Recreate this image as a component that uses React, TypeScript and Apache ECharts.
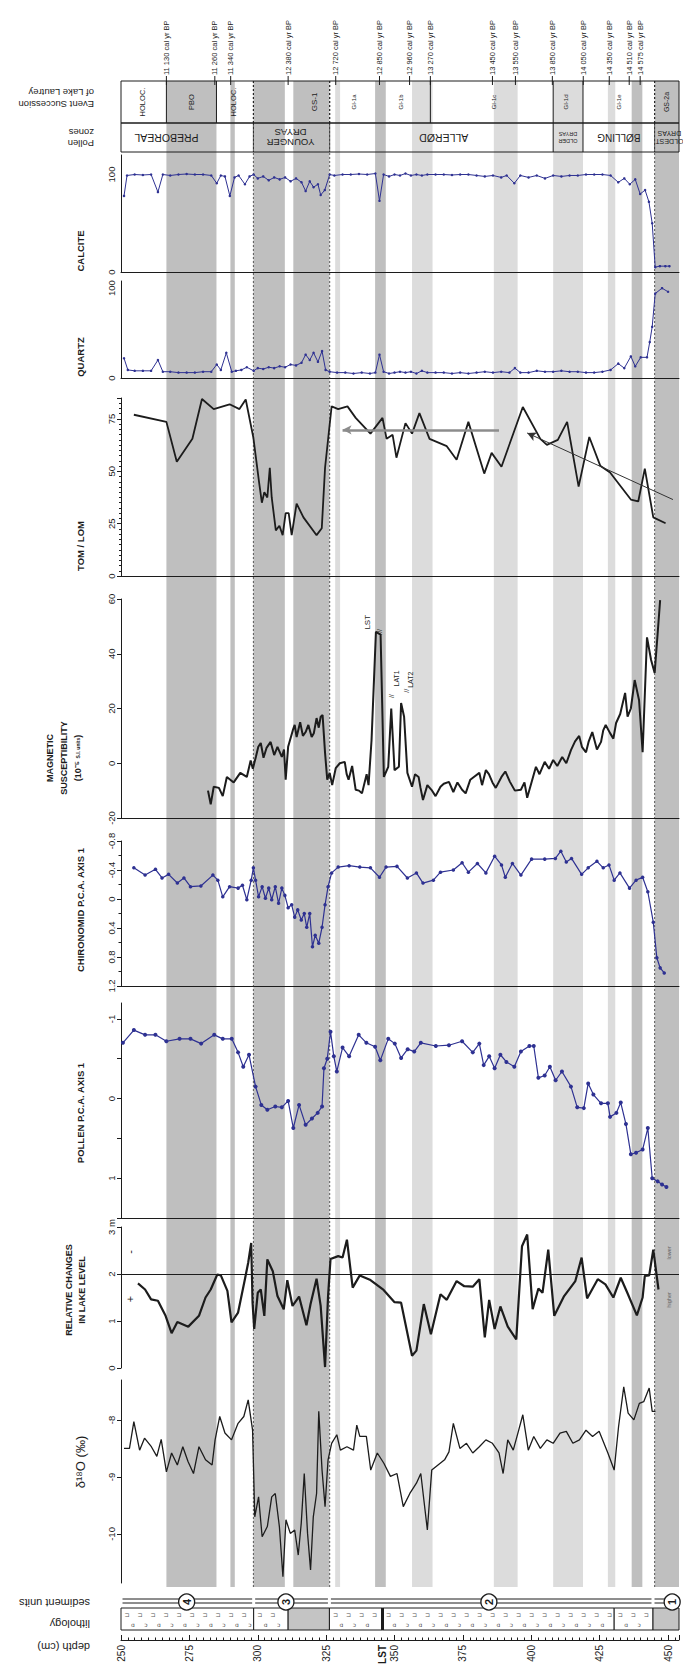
import React, { useEffect, useRef } from 'react';
import * as echarts from 'echarts';

const FONT = '"Liberation Sans", Arial, Helvetica, sans-serif';
const INK = '#1c1c1c';
const BLUE = '#2e3192';
const GREY_DARK = '#bfbfbf';
const GREY_LIGHT = '#dcdcdc';

const DEPTH_MIN = 250;
const DEPTH_MAX = 454;
const LST_DEPTH = 345.6;
const depthTickLabels = [250, 275, 300, 325, LST_DEPTH, 350, 375, 400, 425, 450];

// grey event bands (depth cm)
const bandStarts = [266.6, 290.0, 298.4, 313.0, 328.3, 342.9, 356.4, 386.3, 408.0, 428.0, 436.7, 445.1];
const bandEnds = [284.9, 291.6, 309.9, 326.2, 330.1, 346.8, 363.9, 395.0, 418.9, 430.7, 440.6, 454.0];
const bandDark = [1, 1, 1, 1, 0, 1, 0, 0, 0, 0, 1, 1];
const boundaryDepths = [298.4, 326.3, 445.1];

// dates
const dateDepths = [266.6, 284.3, 290.1, 311.1, 328.5, 344.5, 355.5, 363.1, 385.8, 394.2, 407.7, 419.0, 428.5, 435.8, 439.8];
const dateLabels = ['11 130', '11 260', '11 340', '12 380', '12 720', '12 850', '12 960', '13 270', '13 450', '13 550', '13 850', '14 050', '14 350', '14 510', '14 575'];

// event succession
const eventNames = ['HOLOC.', 'PBO', 'HOLOC.', 'GS-1', 'GI-1a', 'GI-1b', 'GI-1c', 'GI-1d', 'GI-1e', 'GS-2a'];
const eventStarts = [250, 266.6, 284.9, 298.4, 326.3, 342.9, 363.1, 408.0, 418.9, 445.1];
const eventEnds = [266.6, 284.9, 298.4, 326.3, 342.9, 363.1, 408.0, 418.9, 445.1, 454];
const eventLabelAt = [257.8, 275.8, 291.2, 320.6, 335.0, 352.4, 386.5, 412.8, 432.0, 449.6];
const eventEndLine = ['solid', 'solid', 'dotted', 'dotted', 'none', 'solid', 'solid', 'solid', 'dotted', 'none'];
const eventFont = [7.5, 7.5, 7.5, 8, 6, 6, 6, 6, 6, 7];

// pollen zones
const zoneNames = ['PREBOREAL', 'YOUNGER\nDRYAS', 'ALLERØD', 'OLDER\nDRYAS', 'BØLLING', 'OLDEST\nDRYAS'];
const zoneStarts = [250, 298.4, 326.3, 408.0, 418.9, 445.1];
const zoneEnds = [298.4, 326.3, 408.0, 418.9, 445.1, 454];
const zoneLabelAt = [266.6, 312.0, 368.0, 413.4, 432.0, 450.5];
const zoneEndLine = ['dotted', 'dotted', 'solid', 'solid', 'dotted', 'none'];
const zoneFont = [10.5, 9.5, 10.5, 5.5, 10, 7];

// sediment units & lithology
const unitNumbers = ['4', '3', '2', '1'];
const unitStarts = [250, 298.5, 326.2, 444.5];
const unitEnds = [298.5, 326.2, 444.5, 454];
const unitLabelAt = [274, 310.3, 384.5, 451.5];
const lithStarts = [250, 298.5, 311.1, 326.2, LST_DEPTH, 430.3, 444.5];
const lithEnds = [298.5, 311.1, 326.2, LST_DEPTH, 430.3, 444.5, 454];
const lithGrey = [0, 0, 1, 0, 0, 0, 1];

// series [depth cm, value]
const calcite = [[251.1,78],[252.2,99],[255,100],[258,99.5],[261,100],[263.5,82],[265.3,100],[268,99],[271,100],[274,100.5],[277,100],[280,100],[283,99],[285,91],[286.5,99],[288,98],[289.8,78],[291.5,97],[293,99],[295.3,90],[297,98],[298.5,100],[300,96],[302,98],[304,94],[306,97],[308,95],[310,97],[312,93],[314,96],[316,92],[317.5,83],[319,93],[320.4,87],[322,90],[323,79],[324.5,84],[326.3,100],[328,99],[331,100],[334,100],[337,100.5],[340,100],[343,101],[344.5,73],[346,100],[348,98],[350,100],[352,99],[354,101],[356,99],[358,100],[360,99],[362,100],[365,100],[368,100],[371,99.5],[374,100],[377,100],[380,99],[383,98],[386,99],[389,97],[391,99],[393.8,91],[396,99],[399,97],[402,99],[405,96],[408,99],[411,98],[414,99],[417,99],[420,100],[423,100],[426,100],[429,99],[431.8,92],[434,96],[436,90],[438,95],[439.8,80],[441.6,84],[443,72],[444.2,50],[445.3,5],[447,6],[449,6],[450.5,6]];

const quartz = [[251.1,22],[252.5,9],[255,8],[258,8],[261,8],[263.5,20],[265.3,7],[268,7],[271,6],[274,6],[277,6],[280,7],[283,7],[285,15],[286.5,9],[288.5,28],[290.5,7],[292,8],[294,9],[296,12],[298.5,8],[300,11],[302,10],[304,12],[306,11],[308,13],[310,12],[312,15],[314,14],[316,17],[317.5,26],[319,20],[320.4,28],[322,18],[323.5,30],[324.8,9],[326.3,7],[329,6],[332,6],[335,5],[338,6],[341,5],[343,6],[344.5,26],[346,7],[348,5],[350,6],[352,7],[354,6],[356,7],[358,5],[360,8],[362,6],[365,6],[368,6],[371,5],[374,6],[377,5],[380,6],[383,7],[386,6],[389,7],[392,6],[394,11],[396,6],[399,6],[402,8],[405,7],[408,7],[411,8],[414,7],[417,7],[420,6],[423,6],[426,7],[429,9],[431.8,16],[434,11],[436.4,24],[438,13],[440,23],[442.3,23],[443.3,40],[444.2,57],[445.3,94],[447.8,100],[450,96]];

const tomLom = [[254.7,77],[266.6,73.6],[270.4,54.6],[276.1,65.5],[279.6,84.5],[283.9,79.7],[289.7,82],[293.3,79.7],[295.6,84.3],[298.4,66],[300.4,45.6],[301.5,35],[302.4,40],[303.5,37.5],[304.4,51.7],[305.1,37.5],[306.6,21.8],[307.9,24],[309.1,19.5],[310.2,30],[311.3,30],[312.4,19.5],[314.2,34.6],[316.7,28],[321.5,19.5],[323.4,22.8],[324.6,51.7],[327,81],[329.4,79.7],[332.8,81],[335.8,75.5],[341.2,68],[345.6,75.5],[347.1,65.5],[349.3,67.4],[350.7,56.5],[354,73],[356.4,68],[359.1,77.8],[362.8,65.5],[369.1,62],[372.7,55.5],[377,73.6],[382.8,48.9],[385.5,58.8],[389.1,52.2],[396.9,80.7],[403.3,65.5],[405.7,62.6],[409.7,65],[413.1,73.6],[417.3,42.7],[421.2,66.4],[425.2,52.7],[428.8,49.4],[436.4,36.5],[439.1,35.6],[441.5,51.3],[444.6,28],[449.1,25.2]];

const magSus = [[281.8,-10],[282.8,-15],[283.9,-8.6],[285.8,-9],[287.2,-12],[288.7,-5],[291.2,-7],[293.6,-3.5],[296,-5],[297.4,1],[298.2,-2],[299.3,2.3],[300.2,6],[301.1,7.4],[302.1,2],[303.2,5.6],[304.7,7.8],[306,3],[307.2,6],[308.8,2.3],[309.6,5],[310.2,-6],[311.1,6],[312.8,12],[313.5,14],[314.2,9.6],[315.5,15],[316.5,10],[317.5,11.4],[318.5,14],[319.7,9.6],[320.5,11],[321.5,16.5],[322.3,13],[323,17],[323.7,17.6],[324.6,3.8],[325.4,-6],[326.3,-3.5],[327.2,-8],[328.5,-1.8],[330,0],[331.8,0.5],[332.5,-4],[333.2,-6],[334.5,-1],[335.8,-9.7],[337,-10],[338.1,-11],[339.8,-4],[340.5,-8],[341.6,8.5],[343.2,48],[344.9,47],[346.1,-5],[347.7,-1.3],[348.8,20],[350,-2.5],[351.6,-1.3],[352.4,22],[353.5,17],[354.7,-3.5],[356.4,-8.6],[357.5,-4],[358.8,-5],[359.5,-9],[360.4,-13.4],[362,-8],[363.5,-9.7],[365,-12],[366.8,-8.6],[368,-7.5],[369.9,-6.8],[371.5,-10.5],[373,-7],[374.7,-9.7],[376,-11],[377.7,-6],[379,-5],[381,-3.5],[382,-8],[383.4,-2.5],[384.5,-4],[385.8,-7],[387,-9],[389.1,-5],[390.5,-3],[392.2,-6.8],[394,-10],[396.2,-9.7],[397.5,-7],[398.5,-12.6],[401.7,-1.3],[403,-4],[404.9,0.5],[406.5,-2],[408,1.2],[409.5,-1],[411.3,2.3],[412.8,0],[414.5,4.8],[416,8],[417.5,10],[418.5,6],[420,4],[421,8],[422.3,11.4],[424,5],[425.5,7.8],[426.3,12],[427.2,14],[428.8,11],[430,9],[431,14.7],[432.5,18],[434.3,25.7],[435.2,17],[436.4,20],[437.8,30.4],[439.4,23],[440.7,4],[442.3,46],[443.8,37.7],[445.1,33],[446.2,47.5],[447.1,59.6]];

const chironomid = [[254.7,-0.43],[258.8,-0.33],[262.6,-0.41],[265,-0.29],[267.4,-0.34],[270.6,-0.22],[273,-0.29],[275.4,-0.17],[279.2,-0.18],[283.6,-0.33],[285.4,-0.26],[287.2,-0.03],[289.7,-0.17],[292.8,-0.15],[294.4,-0.19],[296,0.01],[297.6,-0.26],[298.4,-0.43],[299.2,-0.26],[300.3,-0.03],[301.6,-0.17],[302.8,-0.01],[304,-0.15],[305.1,0.01],[306.4,-0.17],[307.6,0.06],[308.8,-0.15],[309.9,-0.05],[311.1,0.12],[312.4,0.08],[313.5,0.25],[314.6,0.15],[315.9,0.29],[317,0.2],[317.9,0.39],[319,0.2],[320,0.66],[321,0.5],[322.3,0.61],[323.5,0.39],[324.6,0.08],[325.7,-0.17],[327,-0.36],[329.4,-0.44],[333.4,-0.46],[337.3,-0.44],[341.2,-0.43],[344.5,-0.3],[346.9,-0.44],[350.9,-0.45],[354.7,-0.29],[358,-0.36],[360.4,-0.22],[364.2,-0.26],[366.8,-0.37],[371.5,-0.4],[374.7,-0.5],[377,-0.37],[380.3,-0.49],[383.4,-0.36],[386.6,-0.59],[389.1,-0.47],[390.5,-0.3],[393.1,-0.49],[396.2,-0.33],[400.1,-0.55],[404.9,-0.55],[408.8,-0.56],[410.8,-0.66],[412.8,-0.51],[414.7,-0.56],[418.4,-0.34],[420.8,-0.43],[424,-0.52],[426.3,-0.43],[428.4,-0.47],[430.3,-0.26],[432.4,-0.36],[435.9,-0.15],[438.3,-0.26],[440.7,-0.3],[442.6,-0.1],[444.6,0.32],[445.9,0.81],[447.1,0.95],[448.6,1.02]];

const pollen = [[250.7,-0.70],[254.7,-0.86],[258.8,-0.80],[262.6,-0.80],[266.6,-0.72],[271.4,-0.75],[275.4,-0.75],[279.3,-0.69],[284.1,-0.80],[287.2,-0.75],[290.5,-0.75],[292.8,-0.58],[294.7,-0.40],[296.8,-0.55],[299.2,-0.15],[301.3,0.08],[303.5,0.14],[306.4,0.10],[308.8,0.11],[311.1,0.03],[313,0.37],[315.1,0.08],[317.5,0.33],[319.8,0.25],[321.9,0.18],[323.5,0.10],[324.2,-0.38],[325.4,-0.50],[326.6,-0.84],[327.8,-0.53],[328.9,-0.34],[331,-0.64],[333.4,-0.53],[336.9,-0.80],[339.7,-0.70],[342.9,-0.65],[344.8,-0.48],[347.7,-0.75],[350.1,-0.69],[352.4,-0.51],[354.8,-0.62],[357.2,-0.59],[359.6,-0.70],[365.1,-0.66],[369.9,-0.67],[374.7,-0.72],[378.6,-0.58],[381,-0.69],[382.6,-0.42],[384.6,-0.53],[386.6,-0.38],[388.7,-0.55],[390.9,-0.46],[393.8,-0.40],[396.2,-0.59],[399.3,-0.66],[400.9,-0.66],[402.6,-0.26],[404.9,-0.29],[406.8,-0.40],[408.9,-0.23],[411.2,-0.34],[414.5,-0.15],[416.8,0.11],[419.2,0.12],[420.8,-0.19],[422.7,-0.05],[425.5,0.06],[428,0.06],[428.8,0.23],[431.1,0.18],[432.7,0.05],[434.6,0.32],[436.4,0.70],[438.3,0.68],[440.7,0.64],[442.6,0.37],[444.2,1.00],[446.2,1.04],[447.8,1.08],[449.4,1.11]];

const lakeLevel = [[256.2,1.80],[258.8,1.67],[261,1.46],[263.5,1.43],[266.3,1.11],[268.5,0.74],[270.6,0.98],[274.6,0.88],[278.5,1.11],[280.9,1.50],[282.8,1.67],[285.2,1.99],[286.5,1.97],[288.9,1.64],[290.4,0.97],[292.8,1.18],[295.3,1.89],[296.5,2.24],[297.6,2.66],[298.1,1.39],[298.7,0.83],[300,1.60],[301.1,1.67],[302.4,1.11],[303.5,2.31],[305.5,2.06],[307.2,1.53],[309.5,1.25],[310.8,1.87],[312.7,1.32],[315.1,1.52],[317.8,0.91],[319.3,1.36],[321.5,1.90],[323,1.32],[324.6,0.02],[325.7,1.53],[326.6,2.32],[329.4,2.38],[331,2.35],[332.6,2.73],[334.7,1.71],[337.3,1.97],[341.2,1.87],[346,1.66],[350,1.40],[352.4,1.39],[356.4,0.26],[358,0.37],[360.7,1.36],[363.3,0.72],[366.8,1.57],[369.1,1.45],[372.7,1.85],[375.5,1.74],[378.6,1.73],[381,1.89],[383,0.65],[384.6,1.45],[386.6,0.83],[388.7,1.31],[391.4,0.88],[394.5,0.61],[396.6,2.59],[398.5,2.84],[400.5,1.25],[402.6,1.69],[404.1,1.60],[406.2,2.52],[408.4,1.11],[412,1.53],[416.1,1.85],[418.4,2.35],[420.4,1.48],[424.3,1.89],[427.1,1.78],[430,1.50],[432.7,1.92],[435.1,1.60],[438.6,1.12],[440.7,1.50],[441.5,1.96],[443.1,1.97],[444.6,2.52],[446.5,1.67]];

const d18O = [[251.1,-8.50],[253.1,-8.5],[254.7,-8.03],[256.8,-8.53],[258.6,-8.32],[261.1,-8.47],[263.1,-8.64],[264.7,-8.34],[266.6,-8.91],[268.5,-8.58],[270.6,-8.79],[272.6,-8.47],[274.5,-8.73],[276.5,-8.94],[278.5,-8.47],[280.9,-8.70],[283.3,-8.79],[284.4,-8.35],[286.1,-7.94],[288,-8.23],[290.4,-8.35],[292.8,-8.06],[294.9,-7.94],[296.5,-7.65],[298.1,-8.18],[298.9,-9.70],[300.3,-9.35],[301.6,-10.05],[303.5,-9.87],[305.1,-9.35],[306.4,-9.29],[307.9,-9.87],[309.2,-10.75],[310.3,-9.75],[311.9,-9.99],[313.5,-9.93],[314.8,-10.37],[315.9,-9.81],[317,-8.94],[318.2,-9.99],[319.3,-10.63],[320.3,-9.70],[321.5,-9.29],[322.3,-7.85],[323.5,-8.88],[324.6,-9.52],[325.7,-8.70],[327,-8.41],[328.9,-8.26],[330.2,-8.53],[332.6,-8.47],[335,-8.53],[336.2,-8.09],[337.3,-8.29],[339.7,-8.29],[341.3,-8.88],[343.7,-8.58],[346.1,-8.76],[348.5,-8.99],[350.9,-8.94],[353.2,-9.52],[355.6,-9.29],[358,-9.11],[359.6,-8.94],[362,-9.93],[363.6,-8.88],[365.9,-8.79],[368.3,-8.70],[369.9,-8.56],[371.5,-8.06],[373.9,-8.50],[376.3,-8.41],[378.6,-8.58],[381,-8.47],[383.4,-8.35],[385.8,-8.41],[388.2,-8.58],[389.7,-8.94],[391.4,-8.35],[393.4,-8.53],[395.4,-8.18],[396.9,-7.91],[398.9,-8.53],[400.9,-8.29],[403.3,-8.5],[405.7,-8.35],[408,-8.41],[410.5,-8.23],[412.8,-8.2],[415.2,-8.41],[417.6,-8.35],[420,-8.18],[422.4,-8.29],[424.8,-8.2],[428,-8.58],[430.3,-8.88],[431.9,-8.12],[433.8,-7.42],[435.4,-7.88],[437.5,-8.0],[439.5,-7.71],[441.1,-7.68],[443.1,-7.44],[444.2,-7.85],[445.4,-7.85]];

// text annotations inside panels [depth, value]
const magNotes = [
  { d: 340.3, v: 51.5, text: 'LST', size: 8 },
  { d: 344.4, v: 48.0, text: '///', size: 7 },
  { d: 350.6, v: 31.0, text: 'LAT1', size: 7 },
  { d: 348.9, v: 24.5, text: '//', size: 7 },
  { d: 355.9, v: 30.5, text: 'LAT2', size: 7 },
  { d: 354.4, v: 26.5, text: '//', size: 7 },
];
const lakeNotes = [
  { d: 253.3, v: 2.47, text: '-', size: 11, color: INK },
  { d: 253.3, v: 1.47, text: '+', size: 11, color: INK },
  { d: 450.3, v: 2.45, text: 'lower', size: 5.5, color: '#666' },
  { d: 450.3, v: 1.45, text: 'higher', size: 5.5, color: '#666' },
];

const LEFT = 121;
const WIDTH = 558;
const G = (top: number, height: number, show = false) => ({
  left: LEFT, width: WIDTH, top, height, show,
  borderColor: INK, borderWidth: 1, backgroundColor: 'transparent', outerBoundsMode: 'none',
});

const hiddenY = (gi: number, max = 1, inverse = false) => ({ type: 'value', gridIndex: gi, min: 0, max, inverse, show: false });

const yAxisCommon = (gi: number) => ({
  type: 'value', gridIndex: gi, z: 3,
  axisLine: { show: true, onZero: false, lineStyle: { color: INK, width: 1 } },
  axisTick: { show: true, length: 4, lineStyle: { color: INK } },
  splitLine: { show: false },
});
const yLabel = (extra: any = {}) => ({ show: true, rotate: 90, fontSize: 9.5, color: INK, fontFamily: FONT, margin: 5, ...extra });

// centered / aligned rotated label, with both old and new alignment keys
const label = (x: number, y: number, text: string, font: string, rotation: number, align = 'center', lineHeight?: number, rich?: any) => ({
  type: 'text', x, y, rotation,
  style: {
    text, font, fill: INK,
    align, verticalAlign: 'middle', textAlign: align, textVerticalAlign: 'middle',
    ...(lineHeight ? { lineHeight } : {}),
    ...(rich ? { rich } : {}),
  },
});

function textSeries(gi: number, items: any[]) {
  return {
    type: 'custom', xAxisIndex: gi, yAxisIndex: gi, silent: true, z: 4,
    data: items.map((it) => [it.d, it.v]),
    renderItem: (params: any, api: any) => {
      const it = items[params.dataIndex];
      const p = api.coord([api.value(0), api.value(1)]);
      return {
        type: 'text', x: p[0], y: p[1], rotation: Math.PI / 2,
        style: { text: it.text, font: `${it.size}px ${FONT}`, fill: it.color || INK, align: 'center', verticalAlign: 'middle' },
      };
    },
  };
}

function rowSeries(gi: number, names: string[], starts: number[], ends: number[], labelAt: number[], endLine: string[], fonts: number[], rotation: number, lineH: number) {
  return {
    type: 'custom', xAxisIndex: gi, yAxisIndex: gi, silent: true, z: 3,
    data: starts.map((s, i) => [s, ends[i], labelAt[i]]),
    encode: { x: [0, 1, 2] },
    renderItem: (params: any, api: any) => {
      const i = params.dataIndex;
      const cs = params.coordSys;
      const xe = api.coord([api.value(1), 0])[0];
      const xl = api.coord([api.value(2), 0])[0];
      const children: any[] = [];
      if (endLine[i] !== 'none') {
        const style: any = { stroke: INK, lineWidth: 1 };
        if (endLine[i] === 'dotted') style.lineDash = [2, 2];
        children.push({ type: 'line', shape: { x1: xe, y1: cs.y, x2: xe, y2: cs.y + cs.height }, style });
      }
      children.push({
        type: 'text', x: xl, y: cs.y + cs.height / 2, rotation,
        style: { text: names[i], font: `${fonts[i]}px ${FONT}`, fill: INK, align: 'center', verticalAlign: 'middle', lineHeight: fonts[i] * lineH },
      });
      return { type: 'group', children };
    },
  };
}

const option: any = {
  animation: false,
  backgroundColor: '#ffffff',
  textStyle: { fontFamily: FONT },
  grid: [
    G(81, 1506), // 0 bands
    G(81, 42, true), // 1 event succession
    G(123, 29, true), // 2 pollen zones
    G(155, 117), // 3 calcite
    G(281, 97), // 4 quartz
    G(398, 178), // 5 TOM/LOM
    G(599, 219), // 6 magnetic susceptibility
    G(841, 145), // 7 chironomid
    G(1003, 215), // 8 pollen PCA
    G(1227, 141), // 9 lake level
    G(1380, 203), // 10 d18O
    G(1596, 44), // 11 lithology
  ],
  xAxis: [0, 1, 2, 3, 4, 5, 6, 7, 8, 9, 10].map((i) => ({
    type: 'value', gridIndex: i, min: DEPTH_MIN, max: DEPTH_MAX, z: 3,
    show: i >= 3,
    axisLine: { show: i >= 3 && i <= 8, onZero: false, lineStyle: { color: INK, width: 1 } },
    axisTick: { show: false }, axisLabel: { show: false }, splitLine: { show: false },
  })).concat([{
    type: 'value', gridIndex: 11, min: DEPTH_MIN, max: DEPTH_MAX, z: 3, interval: 25,
    axisLine: { show: true, onZero: false, lineStyle: { color: INK, width: 1 } },
    axisTick: { show: true, inside: true, length: 5, lineStyle: { color: INK } },
    minorTick: { show: true, splitNumber: 10, length: 2.5, lineStyle: { color: INK } },
    splitLine: { show: false },
    axisLabel: {
      show: true, rotate: 90, fontSize: 10, color: INK, fontFamily: FONT, margin: 5,
      customValues: depthTickLabels,
      formatter: (v: number) => (Math.abs(v - LST_DEPTH) < 0.01 ? '{b|LST}' : (v % 25 === 0 ? String(v) : '')),
      rich: { b: { fontWeight: 'bold', fontSize: 10, fontFamily: FONT, color: INK } },
    },
  } as any]),
  yAxis: [
    hiddenY(0), hiddenY(1), hiddenY(2),
    { ...yAxisCommon(3), min: 0, max: 120, interval: 100, axisTick: { show: false }, axisLabel: yLabel({ formatter: (v: number) => (v === 0 || v === 100 ? String(v) : '') }) },
    { ...yAxisCommon(4), min: 0, max: 108, interval: 100, axisTick: { show: false }, axisLabel: yLabel({ formatter: (v: number) => (v === 0 || v === 100 ? String(v) : '') }) },
    { ...yAxisCommon(5), min: 0, max: 85, interval: 25, minorTick: { show: true, splitNumber: 10, length: 2, lineStyle: { color: INK } }, axisLabel: yLabel({ formatter: (v: number) => (v % 25 === 0 ? String(v) : '') }) },
    { ...yAxisCommon(6), min: -20, max: 60, interval: 20, axisLabel: yLabel() },
    { ...yAxisCommon(7), min: -0.8, max: 1.2, interval: 0.4, inverse: true, minorTick: { show: true, splitNumber: 2, length: 2.5, lineStyle: { color: INK } }, axisLabel: yLabel({ formatter: (v: number) => { const r = Math.round(v * 10) / 10; return r === 0 ? '0' : String(r); } }) },
    { ...yAxisCommon(8), min: -1.2, max: 1.5, inverse: true, axisTick: { show: true, length: 4, lineStyle: { color: INK }, customValues: [-1, -0.5, 0, 0.5, 1, 1.5] }, axisLabel: yLabel({ customValues: [-1, 0, 1] }) },
    { ...yAxisCommon(9), min: 0, max: 3, interval: 1, axisLabel: yLabel({ formatter: (v: number) => (v === 3 ? '3 m' : String(v)) }) },
    { ...yAxisCommon(10), min: -10.86, max: -7.3, axisTick: { show: true, length: 4, lineStyle: { color: INK }, customValues: [-10, -9, -8] }, axisLabel: yLabel({ customValues: [-10, -9, -8] }) },
    hiddenY(11, 44, true),
  ],
  series: [
    // grey bands
    {
      type: 'custom', xAxisIndex: 0, yAxisIndex: 0, silent: true, z: -2,
      data: bandStarts.map((s, i) => [s, bandEnds[i], bandDark[i]]),
      encode: { x: [0, 1] },
      renderItem: (params: any, api: any) => {
        const cs = params.coordSys;
        const x0 = api.coord([api.value(0), 0])[0];
        const x1 = api.coord([api.value(1), 0])[0];
        return { type: 'rect', shape: { x: x0, y: cs.y, width: x1 - x0, height: cs.height }, style: { fill: api.value(2) ? GREY_DARK : GREY_LIGHT } };
      },
    },
    // dotted boundaries
    {
      type: 'custom', xAxisIndex: 0, yAxisIndex: 0, silent: true, z: -1,
      data: boundaryDepths.map((d) => [d]),
      encode: { x: 0 },
      renderItem: (params: any, api: any) => {
        const cs = params.coordSys;
        const x = api.coord([api.value(0), 0])[0];
        return { type: 'line', shape: { x1: x, y1: cs.y, x2: x, y2: cs.y + cs.height }, style: { stroke: '#555', lineWidth: 1, lineDash: [2, 2] } };
      },
    },
    // event succession row
    rowSeries(1, eventNames, eventStarts, eventEnds, eventLabelAt, eventEndLine, eventFont, Math.PI / 2, 1.2),
    // date ticks and labels
    {
      type: 'custom', xAxisIndex: 1, yAxisIndex: 1, silent: true, z: 3,
      data: dateDepths.map((d) => [d]),
      encode: { x: 0 },
      renderItem: (params: any, api: any) => {
        const cs = params.coordSys;
        const x = api.coord([api.value(0), 0])[0];
        return {
          type: 'group', children: [
            { type: 'line', shape: { x1: x, y1: cs.y - 5, x2: x, y2: cs.y + 4 }, style: { stroke: INK, lineWidth: 1 } },
            { type: 'text', x, y: cs.y - 6, rotation: Math.PI / 2, style: { text: `${dateLabels[params.dataIndex]} cal yr BP`, font: `7.5px ${FONT}`, fill: INK, align: 'left', verticalAlign: 'middle' } },
          ],
        };
      },
    },
    // pollen zones row
    rowSeries(2, zoneNames, zoneStarts, zoneEnds, zoneLabelAt, zoneEndLine, zoneFont, Math.PI, 1.15),
    // calcite
    { type: 'line', xAxisIndex: 3, yAxisIndex: 3, data: calcite, symbol: 'circle', symbolSize: 2.5, showAllSymbol: true, silent: true, lineStyle: { color: BLUE, width: 1 }, itemStyle: { color: BLUE } },
    // quartz
    { type: 'line', xAxisIndex: 4, yAxisIndex: 4, data: quartz, symbol: 'circle', symbolSize: 2.5, showAllSymbol: true, silent: true, lineStyle: { color: BLUE, width: 1 }, itemStyle: { color: BLUE } },
    // TOM / LOM
    {
      type: 'line', xAxisIndex: 5, yAxisIndex: 5, data: tomLom, symbol: 'none', silent: true, lineStyle: { color: INK, width: 1.8 },
      markLine: {
        silent: true, label: { show: false }, symbolSize: [7, 9],
        data: [
          [{ coord: [388.2, 69.8], symbol: 'none', lineStyle: { color: '#8c8c8c', width: 2.5, type: 'solid' } }, { coord: [331.0, 69.8], symbol: 'arrow' }],
          [{ coord: [398.5, 68.3], symbol: 'arrow', lineStyle: { color: '#333', width: 1, type: 'solid' } }, { coord: [451.8, 36.5], symbol: 'none' }],
        ],
      },
    },
    // magnetic susceptibility
    { type: 'line', xAxisIndex: 6, yAxisIndex: 6, data: magSus, symbol: 'none', silent: true, lineStyle: { color: INK, width: 2 } },
    textSeries(6, magNotes),
    // chironomid PCA
    { type: 'line', xAxisIndex: 7, yAxisIndex: 7, data: chironomid, symbol: 'circle', symbolSize: 3.5, showAllSymbol: true, silent: true, lineStyle: { color: BLUE, width: 1.2 }, itemStyle: { color: BLUE } },
    // pollen PCA
    { type: 'line', xAxisIndex: 8, yAxisIndex: 8, data: pollen, symbol: 'circle', symbolSize: 4, showAllSymbol: true, silent: true, lineStyle: { color: BLUE, width: 1.2 }, itemStyle: { color: BLUE } },
    // lake level
    {
      type: 'line', xAxisIndex: 9, yAxisIndex: 9, data: lakeLevel, symbol: 'none', silent: true, lineStyle: { color: INK, width: 2.2 },
      markLine: { silent: true, symbol: 'none', label: { show: false }, lineStyle: { color: INK, width: 1, type: 'solid' }, data: [{ yAxis: 2 }] },
    },
    textSeries(9, lakeNotes),
    // d18O
    { type: 'line', xAxisIndex: 10, yAxisIndex: 10, data: d18O, symbol: 'none', silent: true, lineStyle: { color: INK, width: 1.3 } },
    // lithology
    {
      type: 'custom', xAxisIndex: 11, yAxisIndex: 11, silent: true, z: 3,
      data: lithStarts.map((s, i) => [s, lithEnds[i], lithGrey[i]]),
      encode: { x: [0, 1] },
      renderItem: (params: any, api: any) => {
        const cs = params.coordSys;
        const x0 = api.coord([api.value(0), 0])[0];
        const x1 = api.coord([api.value(1), 0])[0];
        const y0 = cs.y + 12;
        const h = 22;
        const grey = api.value(2) === 1;
        const children: any[] = [
          { type: 'rect', shape: { x: x0, y: y0, width: x1 - x0, height: h }, style: { fill: grey ? '#c4c4c4' : '#ffffff', stroke: INK, lineWidth: 1 } },
        ];
        if (!grey) {
          let k = 0;
          for (let x = x0 + 6; x < x1 - 4; x += 13, k++) {
            children.push({ type: 'text', x, y: y0 + 6, style: { text: '⊐', font: '6px "DejaVu Sans"', fill: '#555', align: 'center', verticalAlign: 'middle' } });
            if (x + 6 < x1 - 3) children.push({ type: 'text', x: x + 6, y: y0 + 16, style: { text: k % 2 ? 'ɔ' : 'ɑ', font: '6px "DejaVu Sans"', fill: '#555', align: 'center', verticalAlign: 'middle' } });
          }
        }
        if (Math.abs(api.value(0) - LST_DEPTH) < 0.01) {
          children.push({ type: 'line', shape: { x1: x0, y1: y0, x2: x0, y2: y0 + h }, style: { stroke: INK, lineWidth: 3 } });
        }
        return { type: 'group', children };
      },
    },
    // sediment units
    {
      type: 'custom', xAxisIndex: 11, yAxisIndex: 11, silent: true, z: 4,
      data: unitStarts.map((s, i) => [s, unitEnds[i], unitLabelAt[i]]),
      encode: { x: [0, 1, 2] },
      renderItem: (params: any, api: any) => {
        const cs = params.coordSys;
        const x0 = api.coord([api.value(0), 0])[0];
        const x1 = api.coord([api.value(1), 0])[0];
        const cx = api.coord([api.value(2), 0])[0];
        const y0 = cs.y;
        return {
          type: 'group', children: [
            { type: 'line', shape: { x1: x0 + 1.5, y1: y0 + 3, x2: x1 - 1.5, y2: y0 + 3 }, style: { stroke: INK, lineWidth: 1 } },
            { type: 'line', shape: { x1: x0 + 1.5, y1: y0 + 7, x2: x1 - 1.5, y2: y0 + 7 }, style: { stroke: INK, lineWidth: 1 } },
            { type: 'circle', shape: { cx, cy: y0 + 6, r: 8 }, style: { fill: '#ffffff', stroke: INK, lineWidth: 1.3 } },
            { type: 'text', x: cx, y: y0 + 6, rotation: Math.PI / 2, style: { text: unitNumbers[params.dataIndex], font: `bold 11px ${FONT}`, fill: INK, align: 'center', verticalAlign: 'middle' } },
          ],
        };
      },
    },
  ],
  graphic: [
    label(94, 98, 'Event Succession\nof Lake Lautrey', `9.5px ${FONT}`, Math.PI, 'left', 12),
    label(94, 137.5, 'Pollen\nzones', `9.5px ${FONT}`, Math.PI, 'left', 11),
    label(80, 251, 'CALCITE', `bold 9.5px ${FONT}`, Math.PI / 2),
    label(80, 357, 'QUARTZ', `bold 9.5px ${FONT}`, Math.PI / 2),
    label(80, 546, 'TOM / LOM', `bold 9.5px ${FONT}`, Math.PI / 2),
    label(64, 758, 'MAGNETIC\nSUSCEPTIBILITY\n(10⁻⁵ {s|S.I. units})', `bold 9px ${FONT}`, Math.PI / 2, 'center', 14,
      { s: { fontSize: 5, fontFamily: FONT, fill: INK, fontWeight: 'bold' } }),
    label(80, 910, 'CHIRONOMID P.C.A. AXIS 1', `bold 9.5px ${FONT}`, Math.PI / 2),
    label(80, 1113, 'POLLEN P.C.A. AXIS 1', `bold 9.5px ${FONT}`, Math.PI / 2),
    label(75, 1290, 'RELATIVE CHANGES\nIN LAKE LEVEL', `bold 9px ${FONT}`, Math.PI / 2, 'center', 13),
    label(80, 1462, 'δ¹⁸O (‰)', `13px ${FONT}`, Math.PI / 2),
    label(90, 1603, 'sediment units', `11px ${FONT}`, Math.PI, 'left'),
    label(90, 1624, 'lithology', `11px ${FONT}`, Math.PI, 'left'),
    label(90, 1647, 'depth (cm)', `11px ${FONT}`, Math.PI, 'left'),
  ],
};

export default function App() {
  const ref = useRef<HTMLDivElement>(null);
  useEffect(() => {
    if (!ref.current) return;
    const chart = echarts.init(ref.current, null, { renderer: 'svg' });
    chart.setOption(option);
    return () => chart.dispose();
  }, []);
  return <div ref={ref} style={{ position: 'absolute', left: 0, top: 0, width: 683, height: 1672, background: '#fff' }} />;
}
